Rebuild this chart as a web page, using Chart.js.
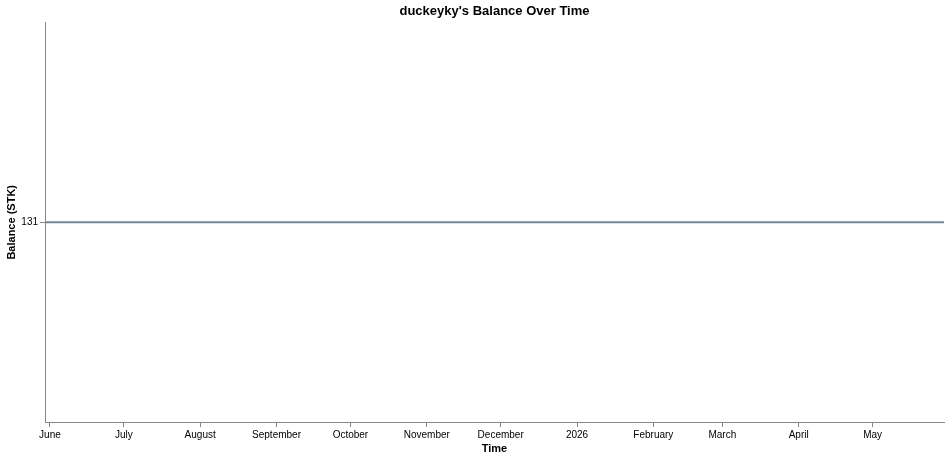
<!DOCTYPE html>
<html>
<head>
<meta charset="utf-8">
<script src="https://cdn.jsdelivr.net/npm/chart.js@4/dist/chart.umd.min.js"></script>
<style>
  html, body { margin: 0; padding: 0; background: #fff; }
  #wrap { width: 951px; height: 459px; }
</style>
</head>
<body>
<div id="wrap"><canvas id="balanceChart" width="951" height="459"></canvas></div>
<script>
// Balance history (dates are UTC)
const dates = ['2025-05-30', '2026-05-30'];
const balances = [131, 131];

// Month ticks shown on the time axis
const tickDates = ['2025-06-01', '2025-07-01', '2025-08-01', '2025-09-01', '2025-10-01', '2025-11-01',
                   '2025-12-01', '2026-01-01', '2026-02-01', '2026-03-01', '2026-04-01', '2026-05-01'];
const tickLabels = ['June', 'July', 'August', 'September', 'October', 'November',
                    'December', '2026', 'February', 'March', 'April', 'May'];
const yTicks = [131];

function toMs(d) {
    const p = d.split('-').map(Number);
    return Date.UTC(p[0], p[1] - 1, p[2]);
}

const points = dates.map((d, i) => ({ x: toMs(d), y: balances[i] }));
const tickMs = tickDates.map(toMs);

const axisColor = '#888888';
const font = 'Liberation Sans, Arial, sans-serif';

// Center the title over the plot area instead of the whole canvas
const titleOverPlot = {
    id: 'titleOverPlot',
    afterLayout(chart) {
        const tb = chart.titleBlock;
        if (!tb) return;
        tb.left = chart.chartArea.left;
        tb.right = chart.chartArea.right;
        tb.width = tb.right - tb.left;
    }
};

new Chart(document.getElementById('balanceChart'), {
    type: 'line',
    data: {
        datasets: [{
            data: points,
            borderColor: '#738599',
            borderWidth: 2,
            pointRadius: 0,
            fill: false,
            tension: 0
        }]
    },
    plugins: [titleOverPlot],
    options: {
        responsive: false,
        animation: false,
        layout: { padding: { left: 0, right: 7, top: 0, bottom: 0 } },
        plugins: {
            legend: { display: false },
            tooltip: { enabled: false },
            title: {
                display: true,
                text: "duckeyky's Balance Over Time",
                color: '#000',
                font: { family: font, size: 13, weight: 'bold' },
                padding: { top: 4, bottom: 3 }
            }
        },
        scales: {
            x: {
                type: 'linear',
                min: toMs(dates[0]),
                max: toMs(dates[dates.length - 1]),
                afterBuildTicks: scale => {
                    scale.ticks = tickMs.map(v => ({ value: v }));
                },
                afterFit: scale => { scale.height = 37; },
                ticks: {
                    autoSkip: false,
                    maxRotation: 0,
                    padding: 2,
                    color: '#000',
                    font: { family: font, size: 10 },
                    callback: function(value) {
                        const i = tickMs.indexOf(value);
                        return i >= 0 ? tickLabels[i] : '';
                    }
                },
                grid: { drawOnChartArea: false, drawTicks: true, tickLength: 5, color: axisColor },
                border: { color: axisColor, width: 1 },
                title: {
                    display: true,
                    text: 'Time',
                    color: '#000',
                    font: { family: font, size: 11, weight: 'bold' },
                    padding: { top: 0, bottom: 3 }
                }
            },
            y: {
                min: 130,
                max: 132,
                afterBuildTicks: scale => {
                    scale.ticks = yTicks.map(v => ({ value: v }));
                },
                afterFit: scale => { scale.width = 45; },
                ticks: {
                    padding: 2,
                    color: '#000',
                    font: { family: font, size: 10 }
                },
                grid: { drawOnChartArea: false, drawTicks: true, tickLength: 5, color: axisColor },
                border: { color: axisColor, width: 1 },
                title: {
                    display: true,
                    text: 'Balance (STK)',
                    color: '#000',
                    font: { family: font, size: 11, weight: 'bold' },
                    padding: { top: 5, bottom: 0 }
                }
            }
        }
    }
});
</script>
</body>
</html>
